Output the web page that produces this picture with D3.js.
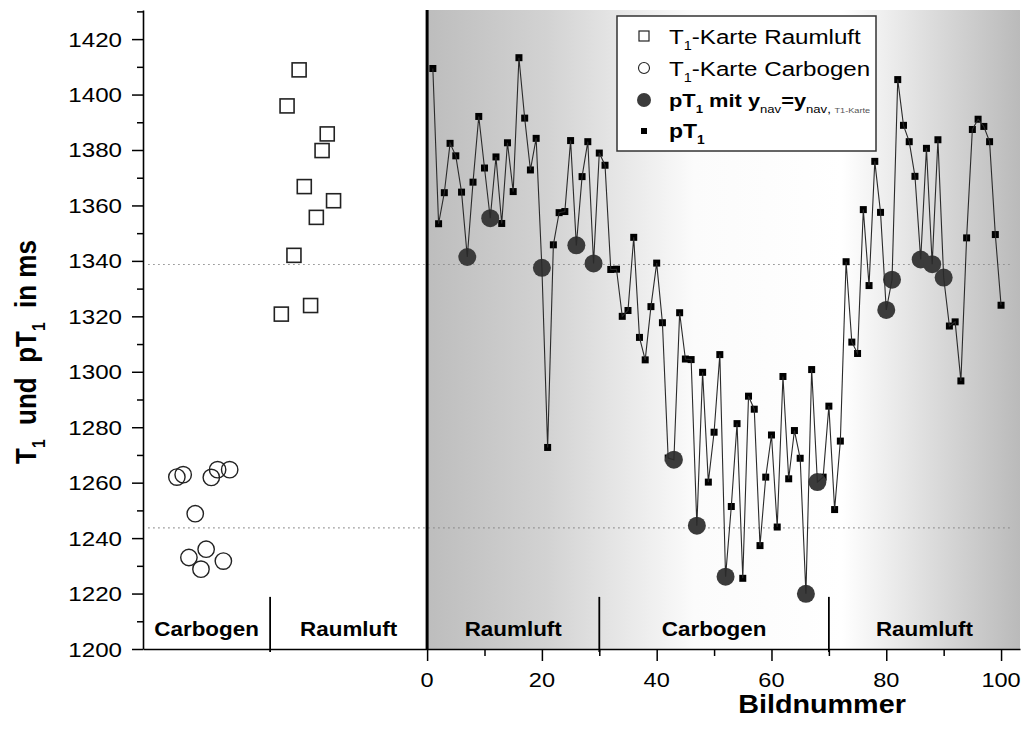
<!DOCTYPE html>
<html>
<head>
<meta charset="utf-8">
<script src="https://cdn.jsdelivr.net/npm/d3@7"></script>
<style>
  body { margin: 0; background: #fff; }
  svg { display: block; font-family: "Liberation Sans", Arial, Helvetica, sans-serif; }
</style>
</head>
<body>
<svg id="chart" width="1030" height="742"></svg>
<script>
// ---- data -------------------------------------------------------------
// image number of each pT1 measurement
const frames = d3.range(1, 101);
// pT1 in ms for frames 1..100
const pT1 = [
  1409.4, 1353.4, 1364.6, 1382.4, 1377.9, 1364.8, 1341.4, 1368.4, 1392.1, 1373.5,
  1355.4, 1377.5, 1353.5, 1382.6, 1365.0, 1413.3, 1391.5, 1372.8, 1384.2, 1337.5,
  1272.7, 1345.8, 1357.4, 1357.8, 1383.4, 1345.6, 1370.4, 1383.0, 1339.1, 1378.9,
  1374.5, 1336.9, 1337.0, 1320.0, 1322.1, 1348.5, 1312.4, 1304.3, 1323.5, 1339.2,
  1317.7, 1268.9, 1268.3, 1321.3, 1304.6, 1304.4, 1244.5, 1299.8, 1260.2, 1278.2,
  1306.2, 1226.1, 1251.4, 1281.3, 1225.5, 1291.2, 1286.5, 1237.3, 1262.0, 1277.2,
  1244.0, 1298.3, 1261.4, 1278.8, 1268.8, 1219.9, 1300.8, 1260.2, 1262.0, 1287.6,
  1250.3, 1275.0, 1339.7, 1310.7, 1306.6, 1358.5, 1331.1, 1375.9, 1357.5, 1322.3,
  1333.2, 1405.4, 1388.9, 1383.0, 1370.5, 1340.5, 1380.6, 1338.8, 1383.7, 1334.0,
  1316.5, 1318.0, 1296.7, 1348.3, 1387.4, 1391.1, 1388.5, 1383.0, 1349.5, 1324.0
];
// frames whose navigator position equals the one of the T1 map
const navMatchedFrames = [7, 11, 20, 26, 29, 43, 47, 52, 66, 68, 80, 81, 86, 88, 90];

// T1 maps (room air), placed left of frame 0
const raumluftMapX  = [-25.4, -24.4, -23.2, -22.3, -21.4, -20.3, -19.3, -18.3, -17.4, -16.3];
const raumluftMapT1 = [1320.8, 1395.9, 1342.0, 1408.9, 1366.8, 1323.9, 1355.7, 1379.8, 1385.8, 1361.7];
// T1 maps (carbogen)
const carbogenMapX  = [-43.6, -42.5, -41.5, -40.4, -39.4, -38.5, -37.6, -36.5, -35.5, -34.4];
const carbogenMapT1 = [1262.0, 1262.9, 1233.0, 1248.8, 1228.8, 1236.0, 1261.9, 1264.7, 1231.7, 1264.7];

// mean T1 levels (dotted guides)
const referenceLevels = [1338.7, 1243.7];

// breathing-gas phases along the x axis
const phaseNames  = ["Carbogen", "Raumluft", "Raumluft", "Carbogen", "Raumluft"];
const phaseBounds = [-49.5, -27.35, 0, 30, 70, 103.3];

const xTickValues = [0, 20, 40, 60, 80, 100];
const xMinorTickValues = [10, 30, 50, 70, 90];
const yTickValues = d3.range(1200, 1421, 20);
const yMinorTickValues = d3.range(1210, 1431, 20);

// ---- layout -----------------------------------------------------------
const SX = 1.15;           // horizontal stretch applied to all lettering
const svg = d3.select("#chart");
const x = d3.scaleLinear().domain([phaseBounds[0], phaseBounds[phaseBounds.length - 1]]).range([143, 1020]);
const y = d3.scaleLinear().domain([1200, 1430.5]).range([649, 10]);

// rich text with (nested) subscripts; parts: {t, lvl, bold, fill}
function richText(parent, parts, size, opts = {}) {
  const t = parent.append("text")
    .attr("font-size", size)
    .attr("font-weight", opts.bold ? "bold" : "normal")
    .attr("text-anchor", opts.anchor || "start")
    .attr("fill", "#000");
  let shift = 0;
  parts.forEach(p => {
    const lvl = p.lvl || 0;
    const fs = lvl === 0 ? size : lvl === 1 ? size * 0.6 : size * 0.42;
    const target = lvl === 0 ? 0 : size * 0.3;
    const ts = t.append("tspan").attr("font-size", fs).attr("dy", target - shift).text(p.t);
    if (p.bold !== undefined) ts.attr("font-weight", p.bold ? "bold" : "normal");
    if (p.fill) ts.attr("fill", p.fill);
    shift = target;
  });
  return t;
}
function stretched(parent, px, py, rot) {
  return parent.append("g").attr("transform",
    rot ? `translate(${px},${py}) rotate(${rot}) scale(1,${SX})`
        : `translate(${px},${py}) scale(${SX},1)`);
}

// ---- background -------------------------------------------------------
const defs = svg.append("defs");
const grad = defs.append("linearGradient").attr("id", "phaseShade")
  .attr("gradientUnits", "userSpaceOnUse")
  .attr("x1", x(0)).attr("x2", x(phaseBounds[5])).attr("y1", 0).attr("y2", 0);
[[0, "#bdbdbd"], [0.2, "#d2d2d2"], [0.45, "#fbfbfb"], [0.7, "#ffffff"], [0.85, "#dcdcdc"], [1, "#bababa"]]
  .forEach(([o, c]) => grad.append("stop").attr("offset", o).attr("stop-color", c));
svg.append("rect")
  .attr("x", x(0)).attr("y", y(1430.5))
  .attr("width", x(phaseBounds[5]) - x(0)).attr("height", y(1200) - y(1430.5))
  .attr("fill", "url(#phaseShade)");

// dotted guide levels
svg.selectAll(".guide").data(referenceLevels).join("line")
  .attr("class", "guide")
  .attr("x1", x(-48.6)).attr("x2", x(102))
  .attr("y1", d => y(d)).attr("y2", d => y(d))
  .attr("stroke", "#8a8a8a").attr("stroke-width", 1.2).attr("stroke-dasharray", "1.5,3.5");

// ---- axes -------------------------------------------------------------
const yAxis = svg.append("g").attr("transform", `translate(${x(phaseBounds[0])},0)`)
  .call(d3.axisLeft(y).tickValues(yTickValues).tickSize(11).tickSizeOuter(0).tickFormat(""));
svg.append("g").attr("transform", `translate(${x(phaseBounds[0])},0)`)
  .call(d3.axisLeft(y).tickValues(yMinorTickValues).tickSize(6).tickFormat(""))
  .call(g => g.select(".domain").remove());
yAxis.select(".domain").attr("stroke-width", 1.6);

const xAxis = svg.append("g").attr("transform", `translate(0,${y(1200)})`)
  .call(d3.axisBottom(x).tickValues(xTickValues).tickSize(12).tickSizeOuter(0).tickFormat(""));
svg.append("g").attr("transform", `translate(0,${y(1200)})`)
  .call(d3.axisBottom(x).tickValues(xMinorTickValues).tickSize(7).tickFormat(""))
  .call(g => g.select(".domain").remove());
xAxis.select(".domain").attr("stroke-width", 1.6);
svg.selectAll(".tick line").attr("stroke-width", 1.5);

// tick labels
yTickValues.forEach(v => {
  const g = stretched(svg, x(phaseBounds[0]) - 21, y(v) + 7.5);
  g.append("text").attr("text-anchor", "end").attr("font-size", 21).text(v);
});
xTickValues.forEach(v => {
  const g = stretched(svg, x(v), y(1200) + 38);
  g.append("text").attr("text-anchor", "middle").attr("font-size", 20.5).text(v);
});

// heavy line at frame 0
svg.append("line")
  .attr("x1", x(0)).attr("x2", x(0)).attr("y1", y(1430.5)).attr("y2", y(1200))
  .attr("stroke", "#000").attr("stroke-width", 3);

// phase separators and names
phaseBounds.slice(1, -1).filter(b => b !== 0).forEach(b => {
  svg.append("line").attr("x1", x(b)).attr("x2", x(b))
    .attr("y1", y(1218.8)).attr("y2", y(1200) + 3)
    .attr("stroke", "#000").attr("stroke-width", 1.8);
});
phaseNames.forEach((n, i) => {
  const cx = x((phaseBounds[i] + phaseBounds[i + 1]) / 2);
  const g = stretched(svg, cx, 636);
  g.append("text").attr("text-anchor", "middle").attr("font-size", 19.5)
    .attr("font-weight", "bold").text(n);
});

// axis titles
{
  const g = stretched(svg, 822, 713);
  g.append("text").attr("text-anchor", "middle").attr("font-size", 25)
    .attr("font-weight", "bold").text("Bildnummer");
}
{
  const g = stretched(svg, 36, 352, -90);
  richText(g, [{ t: "T" }, { t: "1", lvl: 1 }, { t: "\u00a0 und \u00a0pT" }, { t: "1", lvl: 1 }, { t: "\u00a0 in ms" }],
    26, { bold: true, anchor: "middle" });
}

// ---- marks ------------------------------------------------------------
// T1 maps
svg.selectAll(".mapRaum").data(raumluftMapX).join("rect")
  .attr("class", "mapRaum")
  .attr("x", (d, i) => x(d) - 7).attr("y", (d, i) => y(raumluftMapT1[i]) - 7)
  .attr("width", 14).attr("height", 14)
  .attr("fill", "none").attr("stroke", "#222").attr("stroke-width", 1.6);
svg.selectAll(".mapCarb").data(carbogenMapX).join("circle")
  .attr("class", "mapCarb")
  .attr("cx", d => x(d)).attr("cy", (d, i) => y(carbogenMapT1[i])).attr("r", 8.2)
  .attr("fill", "none").attr("stroke", "#222").attr("stroke-width", 1.4);

// pT1 series: square markers, matched-frame discs, then the connecting line
const series = frames.map((f, i) => [f, pT1[i]]);
svg.selectAll(".pt").data(series).join("rect")
  .attr("class", "pt")
  .attr("x", d => x(d[0]) - 3.5).attr("y", d => y(d[1]) - 3.5)
  .attr("width", 7).attr("height", 7).attr("fill", "#000");
svg.selectAll(".nav").data(navMatchedFrames).join("circle")
  .attr("class", "nav")
  .attr("cx", f => x(f)).attr("cy", f => y(pT1[f - 1])).attr("r", 9)
  .attr("fill", "#3b3b3b");
svg.append("path").datum(series)
  .attr("d", d3.line().x(d => x(d[0])).y(d => y(d[1])))
  .attr("fill", "none").attr("stroke", "#2a2a2a").attr("stroke-width", 1.1);

// ---- legend -----------------------------------------------------------
const lg = svg.append("g");
lg.append("rect").attr("x", 617).attr("y", 16).attr("width", 259).attr("height", 135)
  .attr("fill", "#fff").attr("stroke", "#333").attr("stroke-width", 1.5);
const rows = [36, 68, 100, 131];
lg.append("rect").attr("x", 639).attr("y", rows[0] - 5).attr("width", 10).attr("height", 10)
  .attr("fill", "none").attr("stroke", "#222").attr("stroke-width", 1.2);
lg.append("circle").attr("cx", 644).attr("cy", rows[1]).attr("r", 5.5)
  .attr("fill", "none").attr("stroke", "#222").attr("stroke-width", 1.1);
lg.append("circle").attr("cx", 644).attr("cy", rows[2]).attr("r", 7).attr("fill", "#3b3b3b");
lg.append("rect").attr("x", 641).attr("y", rows[3] - 3).attr("width", 6).attr("height", 6).attr("fill", "#000");

richText(stretched(lg, 669, rows[0] + 7.5), [{ t: "T" }, { t: "1", lvl: 1 }, { t: "-Karte Raumluft" }], 21);
richText(stretched(lg, 669, rows[1] + 7.5), [{ t: "T" }, { t: "1", lvl: 1 }, { t: "-Karte Carbogen" }], 21);
richText(stretched(lg, 669, rows[2] + 7), [
  { t: "pT" }, { t: "1", lvl: 1 }, { t: " mit y" }, { t: "nav", lvl: 1, bold: false },
  { t: "=y" }, { t: "nav", lvl: 1, bold: false }, { t: ", ", lvl: 1, bold: false },
  { t: "T", lvl: 2, bold: false, fill: "#555" }, { t: "1", lvl: 2, bold: false, fill: "#555" },
  { t: "-Karte", lvl: 2, bold: false, fill: "#555" }], 19, { bold: true });
richText(stretched(lg, 669, rows[3] + 7), [{ t: "pT" }, { t: "1", lvl: 1 }], 20, { bold: true });
</script>
</body>
</html>
